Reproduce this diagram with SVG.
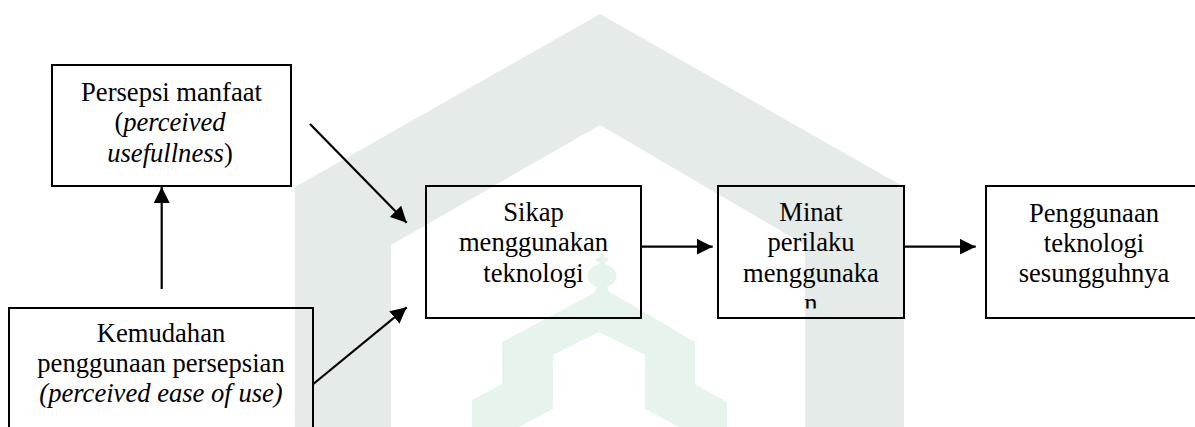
<svg xmlns="http://www.w3.org/2000/svg" width="1195" height="427" viewBox="0 0 1195 427">
  <style>
    .box { fill: none; stroke: #000; stroke-width: 2; }
    .t { font-size: 26.6px; fill: #000; text-anchor: middle; }
    .i { font-style: italic; }
    .edge { stroke: #000; stroke-width: 2.2; fill: none; marker-end: url(#ah); }
  </style>
  <defs>
    <marker id="ah" markerUnits="userSpaceOnUse" markerWidth="16" markerHeight="16" refX="16" refY="8" orient="auto">
      <path d="M0,0 L16,8 L0,16 Z" fill="#000"/>
    </marker>
    <clipPath id="minatClip">
      <rect x="718" y="186" width="186" height="122.5"/>
    </clipPath>
  </defs>
  <rect width="1195" height="427" fill="#fff"/>
  <g id="watermark">
    <polygon fill="#e4ebe8" points="295,427 295,187 600,14 904,187 904,427 805,427 805,245 600,125 391,245 391,427"/>
    <polygon fill="#e6f4eb" points="472,427 472,400 502,384 502,342 596,292 610,292 695,342 695,384 727,402 727,427 679,427 645,409 645,355 599,332 553,355 553,409 519,427"/>
    <path fill="#e6f4eb" d="M594,293 L597,287 C584,283 584,268 599,264 L599,262 C594,261 594,258 600,257 L602,251 L604,257 C610,258 610,261 605,262 L605,264 C620,268 620,283 607,287 L610,293 Z"/>
  </g>
  <g id="connectors">
    <line class="edge" x1="161.7" y1="289" x2="161.7" y2="187"/>
    <line class="edge" x1="310" y1="124" x2="406.7" y2="222.7"/>
    <line class="edge" x1="313.3" y1="384" x2="406.7" y2="307.3"/>
    <line class="edge" x1="641" y1="246.7" x2="712.7" y2="246.7"/>
    <line class="edge" x1="904" y1="246.7" x2="975.7" y2="246.7"/>
  </g>
  <g font-family="'Liberation Serif', 'Times New Roman', 'DejaVu Serif', serif">
  <g id="node-persepsi">
    <rect class="box" x="52" y="65" width="239" height="121"/>
    <text class="t" x="171.5" y="100.5">Persepsi manfaat</text>
    <text class="t" x="170" y="131">(<tspan class="i">perceived</tspan></text>
    <text class="t" x="170" y="161.5"><tspan class="i">usefullness</tspan>)</text>
  </g>
  <g id="node-kemudahan">
    <rect class="box" x="9" y="308" width="304" height="130"/>
    <text class="t" x="161" y="341.7">Kemudahan</text>
    <text class="t" x="161" y="371.7">penggunaan persepsian</text>
    <text class="t i" x="161" y="401.7">(perceived ease of use)</text>
  </g>
  <g id="node-sikap">
    <rect class="box" x="426" y="186" width="215" height="132"/>
    <text class="t" x="533.5" y="220.7">Sikap</text>
    <text class="t" x="533.5" y="251.2">menggunakan</text>
    <text class="t" x="533.5" y="281.7">teknologi</text>
  </g>
  <g id="node-minat">
    <rect class="box" x="718" y="186" width="186" height="132"/>
    <text class="t" x="811" y="220.7">Minat</text>
    <text class="t" x="811" y="250.7">perilaku</text>
    <text class="t" x="811" y="281.7">menggunaka</text>
    <text class="t" x="811" y="312" clip-path="url(#minatClip)">n</text>
  </g>
  <g id="node-penggunaan">
    <rect class="box" x="986" y="186" width="220" height="132"/>
    <text class="t" x="1094" y="221.7">Penggunaan</text>
    <text class="t" x="1094" y="251.7">teknologi</text>
    <text class="t" x="1094" y="281.7">sesungguhnya</text>
  </g>
  </g>
</svg>
